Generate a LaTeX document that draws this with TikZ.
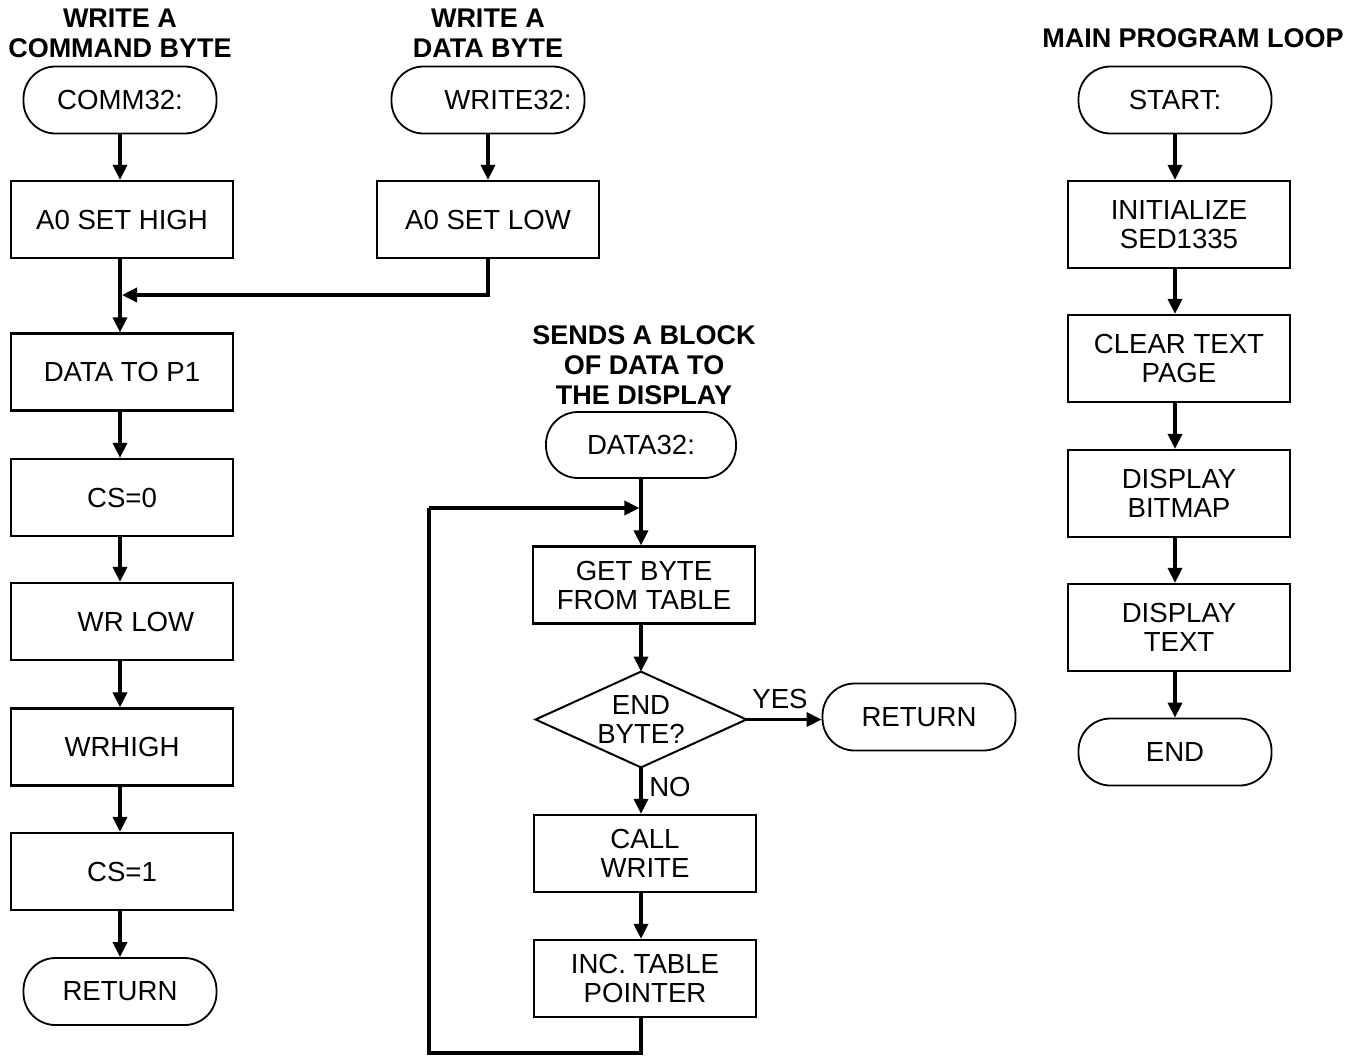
\documentclass[tikz,border=0pt]{standalone}
\usepackage{fontspec}
\setmainfont{Liberation Sans}
\usetikzlibrary{arrows.meta}
\newcommand\myfs{\fontsize{13.8pt}{14.5pt}\selectfont}
\newcommand\myts{\fontsize{13.5pt}{15pt}\selectfont}
\tikzset{
  procbox/.style={draw, line width=1.1pt, rectangle, minimum width=111pt, minimum height=38.5pt, inner sep=0pt, align=center, font=\myfs},
  tallbox/.style={procbox, minimum height=43.5pt},
  term/.style={draw, line width=0.9pt, rectangle, rounded corners=16pt, minimum width=96.5pt, minimum height=33.5pt, inner sep=0pt, align=center, font=\myfs},
  heading/.style={font=\bfseries\myts, align=center, inner sep=0pt},
  lbl/.style={font=\myfs, inner sep=0pt},
  flow/.style={line width=1.7pt, -{Triangle[length=7.5pt,width=7pt]}},
  plainline/.style={line width=1.7pt},
}
\begin{document}
\begin{tikzpicture}[x=0.5pt, y=-0.5pt]
\useasboundingbox (0,0) rectangle (1358,1055);

% ---------- Column 1: write a command byte ----------
\node[heading] (h1) at (120,33) {WRITE A\\COMMAND BYTE};
\node[term] (comm) at (120,100) {COMM32:};
\node[procbox] (a0h) at (122,219.5) {A0 SET HIGH};
\node[procbox] (dtp) at (122,372) {DATA TO P1};
\node[procbox] (cs0) at (122,497.5) {CS=0};
\node[procbox] (wrl) at (122,621.5) {\hspace*{14pt}WR LOW};
\node[procbox] (wrh) at (122,747) {WRHIGH};
\node[procbox] (cs1) at (122,871.5) {CS=1};
\node[term] (ret1) at (120,991.5) {RETURN};

\draw[flow] (comm.south) -- (comm.south |- a0h.north);
\draw[flow] (comm.south |- a0h.south) -- (comm.south |- dtp.north);
\draw[flow] (comm.south |- dtp.south) -- (comm.south |- cs0.north);
\draw[flow] (comm.south |- cs0.south) -- (comm.south |- wrl.north);
\draw[flow] (comm.south |- wrl.south) -- (comm.south |- wrh.north);
\draw[flow] (comm.south |- wrh.south) -- (comm.south |- cs1.north);
\draw[flow] (comm.south |- cs1.south) -- (ret1.north);

% ---------- Column 2: write a data byte ----------
\node[heading] (h2) at (488,33) {WRITE A\\DATA BYTE};
\node[term] (wr32) at (488,100) {\hspace*{20pt}WRITE32:};
\node[procbox] (a0l) at (488,219.5) {A0 SET LOW};
\coordinate (m1) at (488,295);
\coordinate (m2) at (122,295);
\draw[flow] (wr32.south) -- (a0l.north);
\draw[flow] (a0l.south) -- (m1) -- (m2);

% ---------- Column 3: send a block of data ----------
\node[heading] (h3) at (644,365) {SENDS A BLOCK\\OF DATA TO\\THE DISPLAY};
\node[term, minimum width=95pt, minimum height=33pt] (d32) at (641,445) {DATA32:};
\node[procbox] (getb) at (644,585) {GET BYTE\\FROM TABLE};
\node[rectangle, minimum width=105pt, minimum height=47.5pt, inner sep=0pt, align=center, font=\myfs] (dia) at (641,719.5) {END\\BYTE?};
\draw[line width=1pt] (dia.north) -- (dia.east) -- (dia.south) -- (dia.west) -- cycle;
\node[term] (ret2) at (919,717) {RETURN};
\node[lbl] (yes) at (780,699) {YES};
\node[lbl] (no) at (670,787) {NO};
\node[procbox] (call) at (645,853.5) {CALL\\WRITE};
\node[procbox] (inc) at (645,978.5) {INC. TABLE\\POINTER};

\coordinate (lpin) at (641,508);
\coordinate (lp1) at (641,1053);
\coordinate (lp2) at (429,1053);
\coordinate (lp3) at (429,508);

\draw[flow] (d32.south) -- (d32.south |- getb.north);
\draw[flow] (d32.south |- getb.south) -- (dia.north);
\draw[flow] (dia.east) -- (dia.east -| ret2.west);
\draw[flow] (dia.south) -- (dia.south |- call.north);
\draw[flow] (dia.south |- call.south) -- (dia.south |- inc.north);
\draw[plainline] (dia.south |- inc.south) -- (lp1) -- (lp2) -- (lp3);
\draw[flow] (lp3) -- ([xshift=-0.8pt]lpin);

% ---------- Column 4: main program loop ----------
\node[heading] (h4) at (1193,38) {MAIN PROGRAM LOOP};
\node[term] (start) at (1175,100) {START:};
\node[tallbox] (init) at (1179,224.5) {INITIALIZE\\SED1335};
\node[tallbox] (clr) at (1179,358.5) {CLEAR TEXT\\PAGE};
\node[tallbox] (bmp) at (1179,493.5) {DISPLAY\\BITMAP};
\node[tallbox] (dtx) at (1179,627.5) {DISPLAY\\TEXT};
\node[term] (endn) at (1175,752) {END};

\draw[flow] (start.south) -- (start.south |- init.north);
\draw[flow] (start.south |- init.south) -- (start.south |- clr.north);
\draw[flow] (start.south |- clr.south) -- (start.south |- bmp.north);
\draw[flow] (start.south |- bmp.south) -- (start.south |- dtx.north);
\draw[flow] (start.south |- dtx.south) -- (endn.north);
\end{tikzpicture}
\end{document}
